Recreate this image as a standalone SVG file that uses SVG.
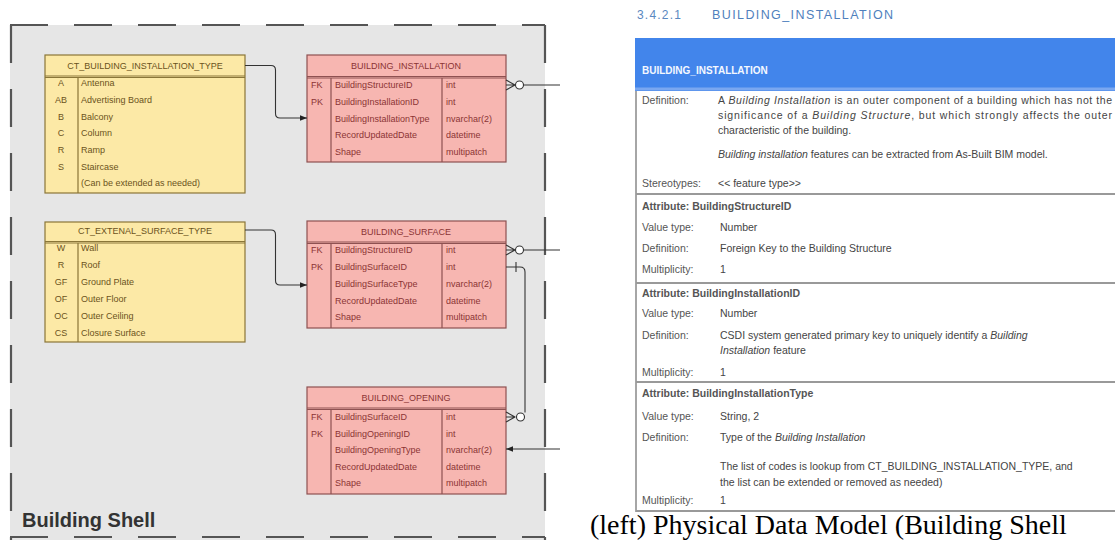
<svg xmlns="http://www.w3.org/2000/svg" width="1115" height="540" viewBox="0 0 1115 540">
<style>
.yt{fill:#fce9a6;stroke:#8a7638;stroke-width:1.2}
.yl{stroke:#8a7638;stroke-width:1.2;fill:none}
.pt{fill:#f7b6b1;stroke:#8e5151;stroke-width:1.2}
.pl{stroke:#8e5151;stroke-width:1.2;fill:none}
.ytx{font-family:"Liberation Sans",Arial,sans-serif;font-size:9px;fill:#6b5320}
.ptx{font-family:"Liberation Sans",Arial,sans-serif;font-size:9px;fill:#8b3434}
.c{text-anchor:middle}
.con{stroke:#333;stroke-width:1.1;fill:none}
.lab{font-family:"Liberation Sans",Arial,sans-serif;font-size:10.5px;fill:#555}
.val{font-family:"Liberation Sans",Arial,sans-serif;font-size:10.5px;fill:#444}
.att{font-family:"Liberation Sans",Arial,sans-serif;font-size:10.5px;fill:#555;font-weight:bold}
.rl{stroke:#999;stroke-width:2}
</style>
<defs>
<marker id="ah" viewBox="0 0 10 10" refX="10" refY="5" markerWidth="7" markerHeight="7" orient="auto" markerUnits="userSpaceOnUse">
<path d="M0,1 L10,5 L0,9 z" fill="#222"/>
</marker>
</defs>
<rect width="1115" height="540" fill="#ffffff"/>

<g id="building-shell">
<rect x="10" y="25" width="535" height="520" fill="#e6e6e6"/>
<path d="M10,25 H545 M11,25 V540 M545,25 V540 M10,537 H545" stroke="#555" stroke-width="2.2" fill="none" stroke-dasharray="38 26"/>
<text x="22" y="527" font-family="'Liberation Sans',Arial,sans-serif" font-size="20" font-weight="bold" fill="#333">Building Shell</text>
</g>

<g id="ct-building-installation-type">
<rect class="yt" x="45" y="55" width="200" height="138"/>
<path class="yl" d="M45,76 H245 M45,77.5 H245 M78,77 V193"/>
<text class="ytx c" x="145" y="68.5">CT_BUILDING_INSTALLATION_TYPE</text>
<text class="ytx c" x="61" y="86">A</text><text class="ytx" x="81" y="86">Antenna</text>
<text class="ytx c" x="61" y="103">AB</text><text class="ytx" x="81" y="103">Advertising Board</text>
<text class="ytx c" x="61" y="120">B</text><text class="ytx" x="81" y="120">Balcony</text>
<text class="ytx c" x="61" y="136">C</text><text class="ytx" x="81" y="136">Column</text>
<text class="ytx c" x="61" y="153">R</text><text class="ytx" x="81" y="153">Ramp</text>
<text class="ytx c" x="61" y="170">S</text><text class="ytx" x="81" y="170">Staircase</text>
<text class="ytx" x="81" y="186">(Can be extended as needed)</text>
</g>

<g id="ct-extenal-surface-type">
<rect class="yt" x="45" y="222" width="200" height="120"/>
<path class="yl" d="M45,241.5 H245 M45,243 H245 M78,243 V342"/>
<text class="ytx c" x="145" y="233.5">CT_EXTENAL_SURFACE_TYPE</text>
<text class="ytx c" x="61" y="251">W</text><text class="ytx" x="81" y="251">Wall</text>
<text class="ytx c" x="61" y="268">R</text><text class="ytx" x="81" y="268">Roof</text>
<text class="ytx c" x="61" y="285">GF</text><text class="ytx" x="81" y="285">Ground Plate</text>
<text class="ytx c" x="61" y="302">OF</text><text class="ytx" x="81" y="302">Outer Floor</text>
<text class="ytx c" x="61" y="319">OC</text><text class="ytx" x="81" y="319">Outer Ceiling</text>
<text class="ytx c" x="61" y="336">CS</text><text class="ytx" x="81" y="336">Closure Surface</text>
</g>

<g id="building-installation">
<rect class="pt" x="307" y="55" width="199" height="107"/>
<path class="pl" d="M307,76.5 H506 M307,78 H506 M331,78 V162 M442,78 V162"/>
<text class="ptx c" x="406" y="68.5">BUILDING_INSTALLATION</text>
<text class="ptx" x="311" y="88">FK</text><text class="ptx" x="335" y="88">BuildingStructureID</text><text class="ptx" x="446" y="88">int</text>
<text class="ptx" x="311" y="105">PK</text><text class="ptx" x="335" y="105">BuildingInstallationID</text><text class="ptx" x="446" y="105">int</text>
<text class="ptx" x="335" y="121.5">BuildingInstallationType</text><text class="ptx" x="446" y="121.5">nvarchar(2)</text>
<text class="ptx" x="335" y="138">RecordUpdatedDate</text><text class="ptx" x="446" y="138">datetime</text>
<text class="ptx" x="335" y="155">Shape</text><text class="ptx" x="446" y="155">multipatch</text>
</g>

<g id="building-surface">
<rect class="pt" x="307" y="221" width="199" height="107"/>
<path class="pl" d="M307,242 H506 M307,243.5 H506 M331,243.5 V328 M442,243.5 V328"/>
<text class="ptx c" x="406" y="235">BUILDING_SURFACE</text>
<text class="ptx" x="311" y="253">FK</text><text class="ptx" x="335" y="253">BuildingStructureID</text><text class="ptx" x="446" y="253">int</text>
<text class="ptx" x="311" y="270">PK</text><text class="ptx" x="335" y="270">BuildingSurfaceID</text><text class="ptx" x="446" y="270">int</text>
<text class="ptx" x="335" y="287">BuildingSurfaceType</text><text class="ptx" x="446" y="287">nvarchar(2)</text>
<text class="ptx" x="335" y="303.5">RecordUpdatedDate</text><text class="ptx" x="446" y="303.5">datetime</text>
<text class="ptx" x="335" y="320">Shape</text><text class="ptx" x="446" y="320">multipatch</text>
</g>

<g id="building-opening">
<rect class="pt" x="307" y="387" width="199" height="107"/>
<path class="pl" d="M307,408 H506 M307,409.5 H506 M331,409.5 V494 M442,409.5 V494"/>
<text class="ptx c" x="406" y="400.5">BUILDING_OPENING</text>
<text class="ptx" x="311" y="420">FK</text><text class="ptx" x="335" y="420">BuildingSurfaceID</text><text class="ptx" x="446" y="420">int</text>
<text class="ptx" x="311" y="436.5">PK</text><text class="ptx" x="335" y="436.5">BuildingOpeningID</text><text class="ptx" x="446" y="436.5">int</text>
<text class="ptx" x="335" y="452.5">BuildingOpeningType</text><text class="ptx" x="446" y="452.5">nvarchar(2)</text>
<text class="ptx" x="335" y="469.5">RecordUpdatedDate</text><text class="ptx" x="446" y="469.5">datetime</text>
<text class="ptx" x="335" y="486">Shape</text><text class="ptx" x="446" y="486">multipatch</text>
</g>

<g id="connectors">
<path class="con" d="M245,65.5 H271 Q275.5,65.5 275.5,70 V113.5 Q275.5,118 280,118 H307" marker-end="url(#ah)"/>
<path class="con" d="M245,230 H271 Q275.5,230 275.5,234.5 V280.5 Q275.5,285 280,285 H307" marker-end="url(#ah)"/>
<path class="con" d="M506,80 L515,85 M506,85 H515.5 M506,90 L515,85 M523.5,85 H560"/>
<circle cx="519.5" cy="85" r="4" fill="#fff" stroke="#333" stroke-width="1.1"/>
<path class="con" d="M506,245 L515,250 M506,250 H515.5 M506,255 L515,250 M523.5,250 H560"/>
<circle cx="519.5" cy="250" r="4" fill="#fff" stroke="#333" stroke-width="1.1"/>
<path class="con" d="M506,267 H520 Q525,267 525,272 V412.5 M516,262 V272"/>
<path class="con" d="M506,412 L515,417 M506,417 H515.5 M506,422 L515,417"/>
<circle cx="520.5" cy="417" r="4" fill="#fff" stroke="#333" stroke-width="1.1"/>
<path class="con" d="M560,449 H506" marker-end="url(#ah)"/>
</g>

<g id="feature-spec">
<text x="637" y="19" font-family="'Liberation Sans',Arial,sans-serif" font-size="12" letter-spacing="1.2" fill="#5a88c0">3.4.2.1</text>
<text x="712" y="19" font-family="'Liberation Sans',Arial,sans-serif" font-size="12.5" letter-spacing="1.4" fill="#4f7fbd">BUILDING_INSTALLATION</text>
<rect x="635" y="38" width="480" height="53" fill="#4285eb"/>
<rect x="635" y="87.5" width="480" height="3" fill="#7aa7f0"/>
<text x="642" y="74" font-family="'Liberation Sans',Arial,sans-serif" font-size="10" font-weight="bold" fill="#f4f8ff">BUILDING_INSTALLATION</text>
<path d="M636,91 V512" stroke="#888" stroke-width="1.5"/>
<path class="rl" d="M636,194 H1115 M636,283 H1115 M636,382 H1115 M636,511 H1115"/>

<text class="lab" x="642" y="104">Definition:</text>
<text class="val" x="718" y="104" textLength="394" lengthAdjust="spacing">A <tspan font-style="italic">Building Installation</tspan> is an outer component of a building which has not the</text>
<text class="val" x="718" y="119" textLength="394" lengthAdjust="spacing">significance of a <tspan font-style="italic">Building Structure</tspan>, but which strongly affects the outer</text>
<text class="val" x="718" y="134">characteristic of the building.</text>
<text class="val" x="718" y="158"><tspan font-style="italic">Building installation</tspan> features can be extracted from As-Built BIM model.</text>
<text class="lab" x="642" y="187">Stereotypes:</text>
<text class="val" x="718" y="187">&lt;&lt; feature type&gt;&gt;</text>

<text class="att" x="642" y="210">Attribute: BuildingStructureID</text>
<text class="lab" x="642" y="231">Value type:</text><text class="val" x="720" y="231">Number</text>
<text class="lab" x="642" y="252">Definition:</text><text class="val" x="720" y="252">Foreign Key to the Building Structure</text>
<text class="lab" x="642" y="273">Multiplicity:</text><text class="val" x="720" y="273">1</text>

<text class="att" x="642" y="297">Attribute:  BuildingInstallationID</text>
<text class="lab" x="642" y="317">Value type:</text><text class="val" x="720" y="317">Number</text>
<text class="lab" x="642" y="339">Definition:</text><text class="val" x="720" y="339">CSDI system generated primary key to uniquely identify a <tspan font-style="italic">Building</tspan></text>
<text class="val" x="720" y="354" font-style="italic">Installation <tspan font-style="normal">feature</tspan></text>
<text class="lab" x="642" y="376">Multiplicity:</text><text class="val" x="720" y="376">1</text>

<text class="att" x="642" y="397">Attribute:  BuildingInstallationType</text>
<text class="lab" x="642" y="420">Value type:</text><text class="val" x="720" y="420">String, 2</text>
<text class="lab" x="642" y="441">Definition:</text><text class="val" x="720" y="441">Type of the <tspan font-style="italic">Building Installation</tspan></text>
<text class="val" x="720" y="470">The list of codes is lookup from CT_BUILDING_INSTALLATION_TYPE, and</text>
<text class="val" x="720" y="486">the list can be extended or removed as needed)</text>
<text class="lab" x="642" y="504">Multiplicity:</text><text class="val" x="720" y="504">1</text>
</g>

<g id="caption">
<text x="590" y="533.5" font-family="'Liberation Serif','Times New Roman',serif" font-size="28" fill="#000">(left) Physical Data Model (Building Shell</text>
</g>
</svg>
